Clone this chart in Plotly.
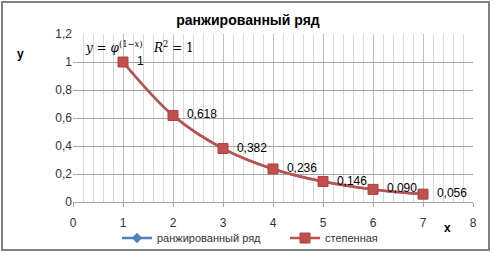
import plotly.graph_objects as go

x_vals = [1, 2, 3, 4, 5, 6, 7]
ranked = [1, 0.618, 0.382, 0.236, 0.146, 0.090, 0.056]
power_fit = [1, 0.618, 0.382, 0.236, 0.146, 0.090, 0.056]
labels = ["1", "0,618", "0,382", "0,236", "0,146", "0,090", "0,056"]

FONT = "Liberation Sans"

fig = go.Figure()
fig.add_trace(go.Scatter(
    x=x_vals, y=ranked, name="ранжированный ряд", mode="lines+markers",
    line=dict(color="#4F81BD", width=2.5, shape="spline"),
    marker=dict(symbol="diamond", size=8, color="#4F81BD"),
    legend="legend",
))
fig.add_trace(go.Scatter(
    x=x_vals, y=power_fit, name="степенная", mode="lines+markers+text",
    line=dict(color="#C0504D", width=2.5, shape="spline"),
    marker=dict(symbol="square", size=10, color="#C0504D",
                line=dict(color="#B0403D", width=1)),
    text=["  " + t for t in labels], textposition="middle right",
    textfont=dict(family=FONT, size=12, color="#000000"),
    cliponaxis=False,
    legend="legend2",
))

W, H = 495, 253
L, R, T, B = 73, 22, 34, 51
pw, ph = W - L - R, H - T - B


def px_x(px):
    return (px - L) / pw


def px_y(py):
    return (H - B - py) / ph


leg_common = dict(orientation="h", xanchor="left", xref="container",
                  y=15 / H, yref="container", yanchor="middle",
                  font=dict(family=FONT, size=11, color="#333"),
                  bgcolor="rgba(0,0,0,0)", itemwidth=30)

fig.update_layout(
    width=W, height=H,
    margin=dict(l=L, r=R, t=T, b=B, autoexpand=False),
    paper_bgcolor="white", plot_bgcolor="white",
    separators=", ",
    font=dict(family=FONT, size=12, color="#333333"),
    title=dict(text="<b>ранжированный ряд</b>", x=px_x(248), xanchor="center",
               xref="paper", y=1 - 20 / H, yanchor="middle",
               font=dict(family=FONT, size=14, color="#000")),
    showlegend=True,
    legend=dict(x=117 / W, **leg_common),
    legend2=dict(x=285 / W, **leg_common),
    xaxis=dict(range=[0, 8], dtick=1, tick0=0, showgrid=True, gridcolor="#BFBFBF",
               gridwidth=1, zeroline=False, showline=True, linecolor="#A6A6A6",
               ticks="outside", ticklen=4, tickcolor="#A6A6A6",
               ticklabelstandoff=6,
               minor=dict(dtick=0.2, showgrid=True, gridcolor="#D9D9D9", gridwidth=1),
               tickfont=dict(family=FONT, size=12, color="#333")),
    yaxis=dict(range=[0, 1.2], dtick=0.2, tick0=0, showgrid=True, gridcolor="#A6A6A6",
               gridwidth=1, zeroline=False, showline=False,
               tickfont=dict(family=FONT, size=12, color="#333"),
               tickformat="~g"),
    shapes=[dict(type="rect", xref="paper", yref="paper", x0=px_x(2), x1=px_x(489),
                 y0=px_y(250), y1=px_y(2), line=dict(color="#808080", width=2))],
    annotations=[
        dict(text="<b>y</b>", xref="paper", yref="paper", x=px_x(15), y=px_y(45),
             showarrow=False, font=dict(family=FONT, size=12, color="#000")),
        dict(text="<b>x</b>", xref="paper", yref="paper", x=px_x(453), y=px_y(237),
             showarrow=False, font=dict(family=FONT, size=12, color="#000")),
        dict(text="<i>y</i> = <i>φ</i><sup>(1−<i>x</i>)</sup>   <i>R</i><sup>2</sup> = 1",
             xref="x", yref="y", x=0.2, y=1.11, xanchor="left", showarrow=False,
             font=dict(family="DejaVu Serif", size=12, color="#000")),
    ],
)

fig.write_html("out.html")
